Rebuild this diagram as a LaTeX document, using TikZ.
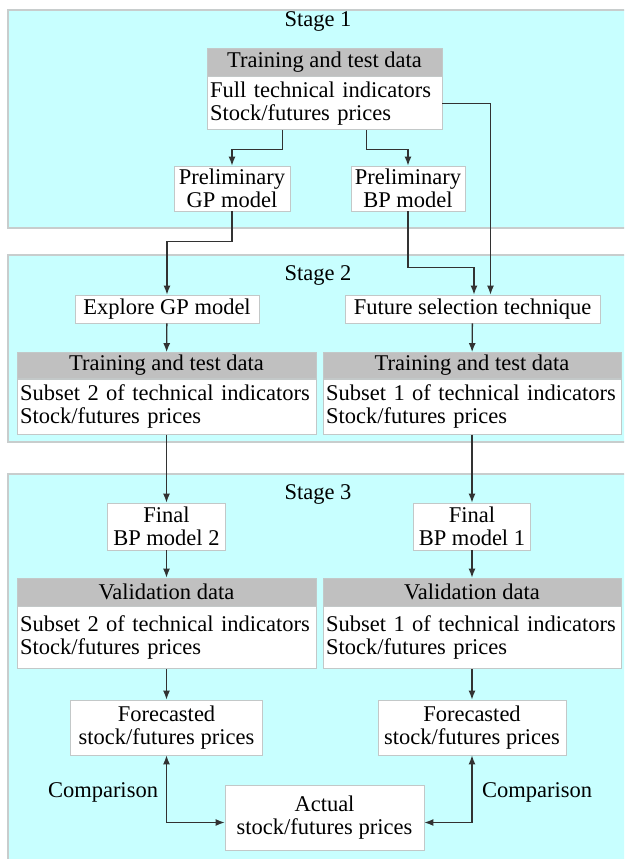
\documentclass[tikz,border=0pt]{standalone}
\usepackage{fontspec}
\setmainfont{Liberation Serif}
\usepackage{xcolor}
\usepackage{tikz}
\usetikzlibrary{arrows.meta, positioning}
\definecolor{stagecyan}{RGB}{200, 255, 255}
\definecolor{stageedge}{RGB}{200, 205, 205}
\definecolor{hdrgray}{RGB}{192, 192, 192}
\definecolor{boxedge}{RGB}{195, 200, 200}
\definecolor{linegray}{RGB}{50, 50, 50}

\begin{document}
\begin{tikzpicture}[
    x=1pt, y=-1pt,
    every node/.style={font=\fontsize{22.5}{23}\selectfont},
    panel/.style={draw=stageedge, line width=1.2pt, fill=stagecyan},
    hdr/.style={draw=boxedge, line width=0.8pt, fill=hdrgray, inner sep=1pt, align=center},
    body/.style={draw=boxedge, line width=0.8pt, fill=white, inner xsep=3pt, inner ysep=1pt, align=left},
    box/.style={draw=boxedge, line width=0.8pt, fill=white, inner sep=1pt, align=center},
    arr/.style={-{Latex[length=9pt, width=7pt]}, line width=1.3pt, color=linegray},
    darr/.style={{Latex[length=9pt, width=7pt]}-{Latex[length=9pt, width=7pt]}, line width=1.3pt, color=linegray}
]
    \clip (0,0) rectangle (624,859);

    % Stage panels
    \draw[panel] (8,10) rectangle (630,228);
    \draw[panel] (8,255) rectangle (630,442);
    \draw[panel] (8,474) rectangle (630,870);
    \node (st1) at (318,21) {Stage 1};
    \node (st2) at (318,275) {Stage 2};
    \node (st3) at (318,494) {Stage 3};

    % Stage 1
    \node[hdr, minimum width=235pt, minimum height=28pt] (hd_s1) at (324.5,62) {Training and test data};
    \node[body, text width=229pt, minimum height=53pt, below=0pt of hd_s1] (dat_s1) {Full technical indicators\\Stock/futures prices};
    \node[box, minimum width=116pt, minimum height=45pt] (pre_gp) at (232,188.5) {Preliminary\\GP model};
    \node[box, minimum width=114pt, minimum height=45pt] (pre_bp) at (408,188.5) {Preliminary\\BP model};

    % Stage 2
    \node[box, minimum width=184pt, minimum height=28pt] (exp_gp) at (167,309) {Explore GP model};
    \node[box, minimum width=255pt, minimum height=28pt] (fs_tech) at (472.5,309) {Future selection technique};
    \node[hdr, minimum width=299pt, minimum height=26pt] (hd_s2l) at (166.5,365.5) {Training and test data};
    \node[body, text width=293pt, minimum height=55pt, below=0pt of hd_s2l] (dat_s2l) {Subset 2 of technical indicators\\Stock/futures prices};
    \node[hdr, minimum width=298pt, minimum height=26pt] (hd_s2r) at (472,365.5) {Training and test data};
    \node[body, text width=292pt, minimum height=55pt, below=0pt of hd_s2r] (dat_s2r) {Subset 1 of technical indicators\\Stock/futures prices};

    % Stage 3
    \node[box, minimum width=118pt, minimum height=47pt] (fin_bp2) at (166.5,526.5) {Final\\BP model 2};
    \node[box, minimum width=117pt, minimum height=47pt] (fin_bp1) at (472,526.5) {Final\\BP model 1};
    \node[hdr, minimum width=299pt, minimum height=28pt] (hd_v2) at (166.5,592) {Validation data};
    \node[body, text width=293pt, minimum height=62pt, below=0pt of hd_v2] (dat_v2) {Subset 2 of technical indicators\\Stock/futures prices};
    \node[hdr, minimum width=298pt, minimum height=28pt] (hd_v1) at (472,592) {Validation data};
    \node[body, text width=292pt, minimum height=62pt, below=0pt of hd_v1] (dat_v1) {Subset 1 of technical indicators\\Stock/futures prices};
    \node[box, minimum width=192pt, minimum height=55pt] (fc_2) at (166.5,727.5) {Forecasted\\stock/futures prices};
    \node[box, minimum width=188pt, minimum height=55pt] (fc_1) at (472,727.5) {Forecasted\\stock/futures prices};
    \node[box, minimum width=199pt, minimum height=65pt] (act) at (324.5,817.5) {Actual\\stock/futures prices};
    \node (cmp_2) at (103,792) {Comparison};
    \node (cmp_1) at (537,792) {Comparison};

    % Connections
    \draw[arr] ([xshift=-42pt]dat_s1.south) -- ++(0,19) -| (pre_gp.north);
    \draw[arr] ([xshift=42pt]dat_s1.south) -- ++(0,19) -| (pre_bp.north);
    \draw[arr] (dat_s1.east) -| ([xshift=18pt]fs_tech.north);
    \draw[arr] (pre_bp.south) -- ++(0,56) -| ([xshift=1.5pt]fs_tech.north);
    \draw[arr] (pre_gp.south) -- ++(0,30) -| (exp_gp.north);
    \draw[arr] (exp_gp) -- (hd_s2l);
    \draw[arr] (fs_tech) -- (hd_s2r);
    \draw[arr] (dat_s2l) -- (fin_bp2);
    \draw[arr] (dat_s2r) -- (fin_bp1);
    \draw[arr] (fin_bp2) -- (hd_v2);
    \draw[arr] (fin_bp1) -- (hd_v1);
    \draw[arr] (dat_v2) -- (fc_2);
    \draw[arr] (dat_v1) -- (fc_1);
    \draw[darr] (fc_2.south) |- ([yshift=-5pt]act.west);
    \draw[darr] (fc_1.south) |- ([yshift=-5pt]act.east);
\end{tikzpicture}
\end{document}
